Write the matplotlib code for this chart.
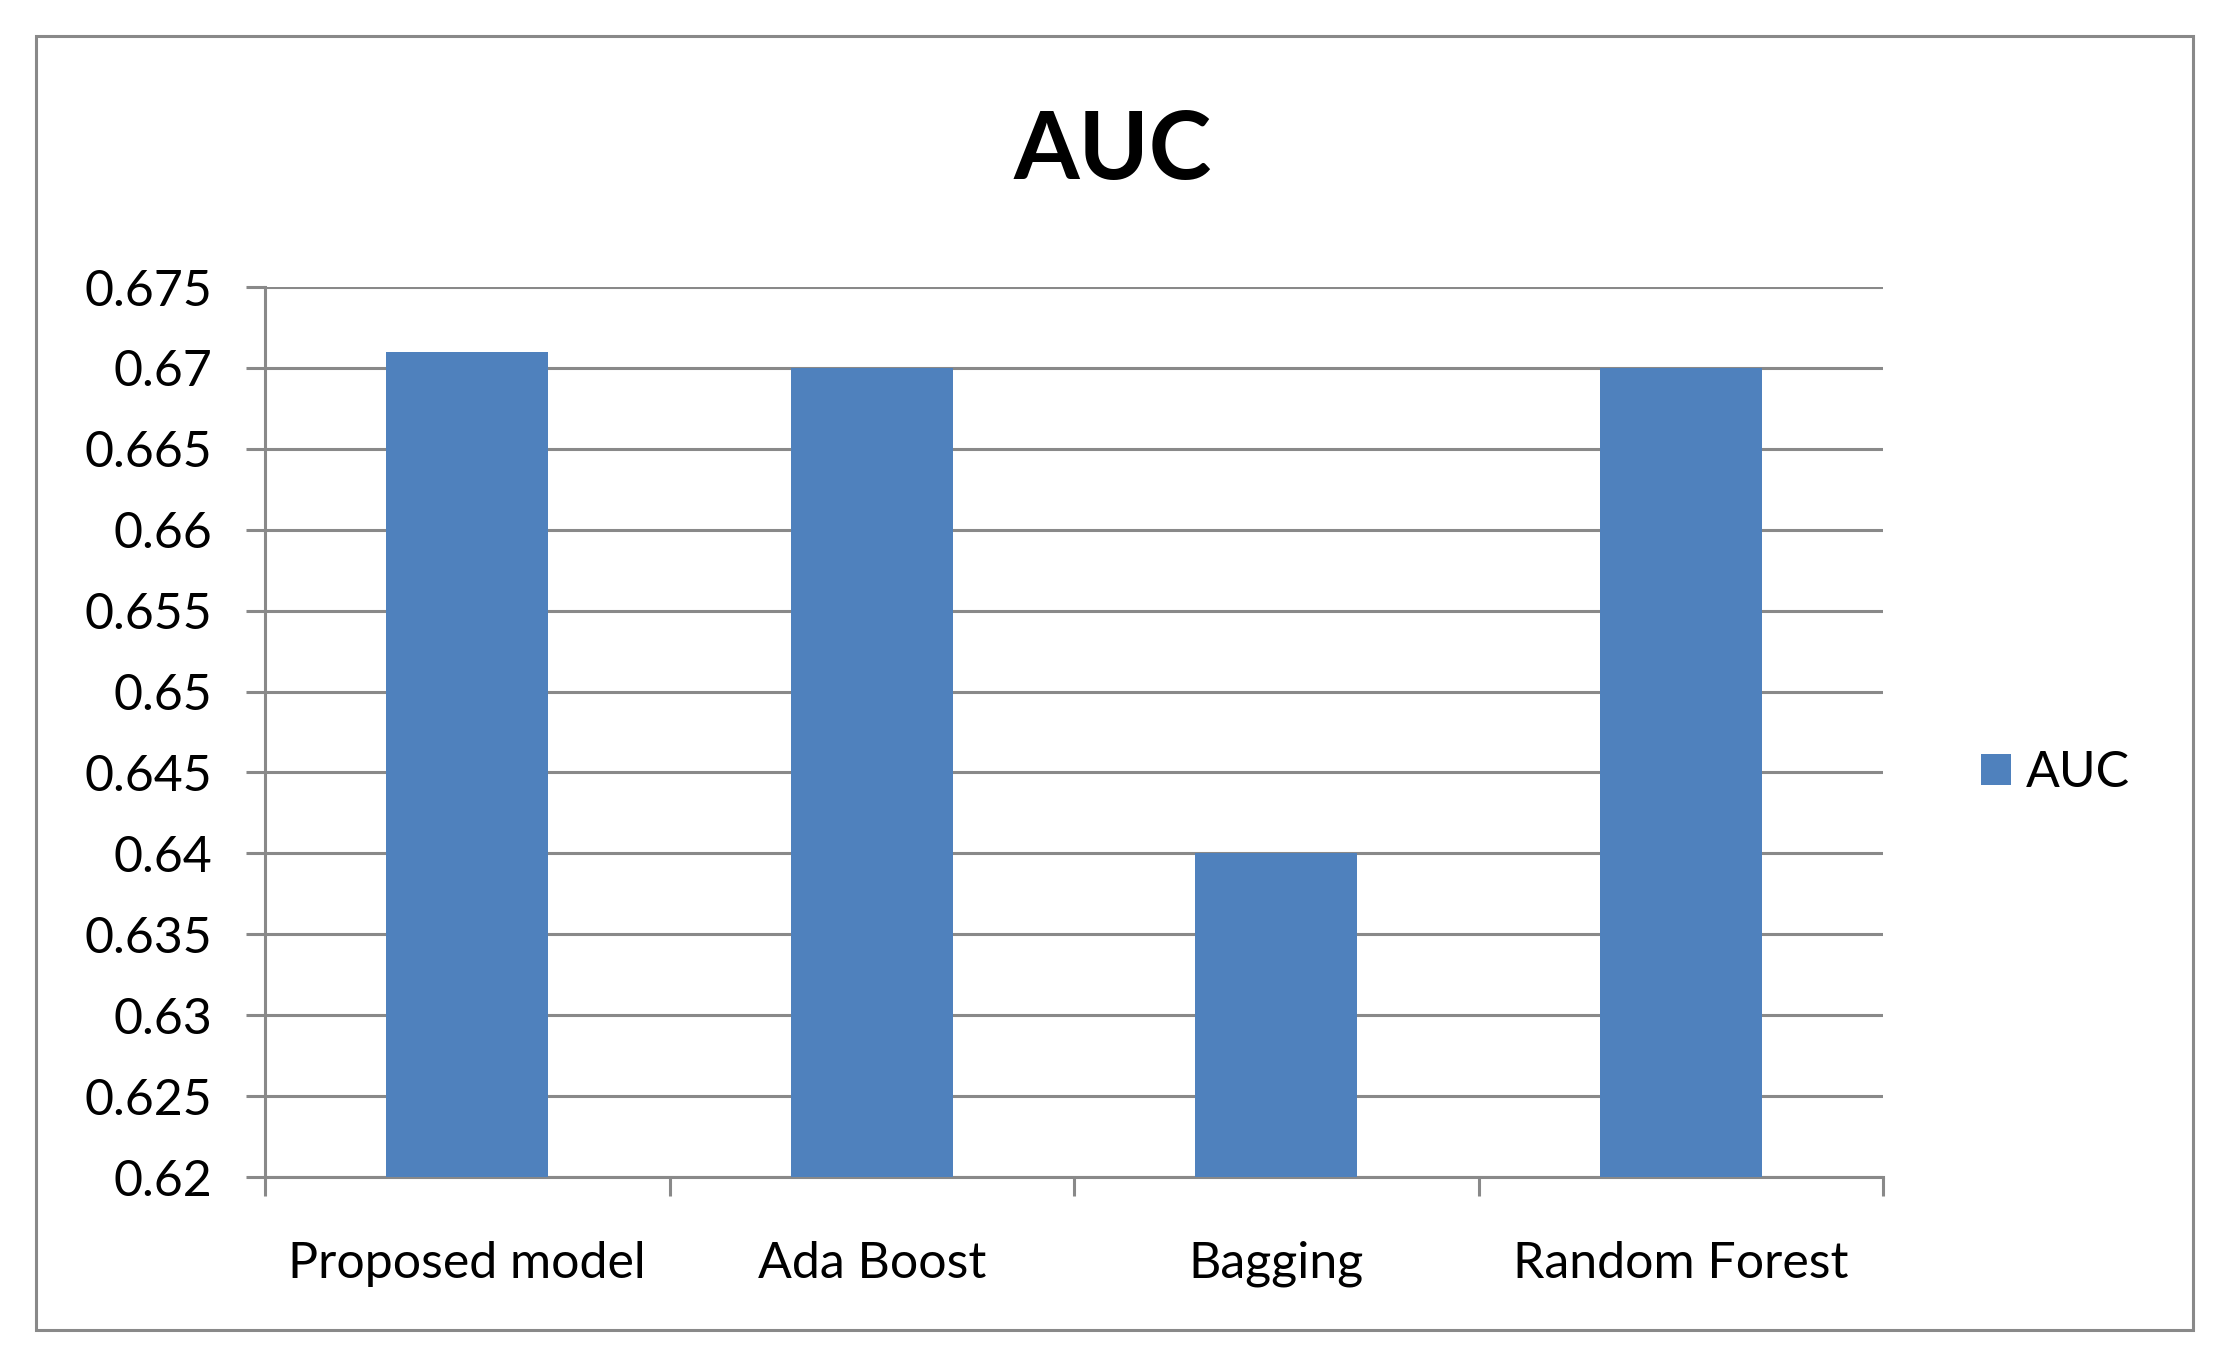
import matplotlib
matplotlib.use("Agg")
import matplotlib.pyplot as plt
from matplotlib.patches import Rectangle
from matplotlib.ticker import FixedLocator
import numpy as np

categories = ["Proposed model", "Ada Boost", "Bagging", "Random Forest"]
auc_values = [0.671, 0.670, 0.640, 0.670]
y_ticks = [0.62, 0.625, 0.63, 0.635, 0.64, 0.645, 0.65, 0.655, 0.66, 0.665, 0.67, 0.675]
y_tick_labels = ["0.62", "0.625", "0.63", "0.635", "0.64", "0.645", "0.65", "0.655",
                 "0.66", "0.665", "0.67", "0.675"]
series_name = "AUC"

plt.rcParams['font.family'] = ['Lato', 'DejaVu Sans']

W, H = 2237, 1370
fig = plt.figure(figsize=(W / 100, H / 100), dpi=100)
fig.patch.set_facecolor("white")

# outer border
fig.patches.append(Rectangle((36 / W, 40 / H), (2193 - 36) / W, (1334 - 40) / H,
                             transform=fig.transFigure, fill=False,
                             edgecolor="#898989", linewidth=2.2, zorder=0))

ax = fig.add_axes([265 / W, 193 / H, 1618 / W, 890 / H])
grid_c = "#898989"
x = np.arange(len(categories))
ax.bar(x, auc_values, width=0.4, color="#4F81BD", zorder=3, label=series_name)

ax.set_xlim(-0.5, len(categories) - 0.5)
ax.set_ylim(y_ticks[0], y_ticks[-1])
ax.set_yticks(y_ticks)
ax.set_yticklabels(y_tick_labels)
ax.yaxis.grid(True, color=grid_c, linewidth=2.2, zorder=0)
ax.set_axisbelow(True)

ax.set_xticks(x)
ax.set_xticklabels(categories)
ax.xaxis.set_minor_locator(FixedLocator(np.arange(-0.5, len(categories), 1.0)))
ax.tick_params(axis="x", which="major", length=0, pad=46, labelsize=36)
ax.tick_params(axis="x", which="minor", length=14, width=2.2, color=grid_c, direction="out")
ax.tick_params(axis="y", which="major", length=14, width=2.2, color=grid_c,
               direction="out", pad=24, labelsize=36)

for s in ["top", "right"]:
    ax.spines[s].set_visible(False)
for s in ["left", "bottom"]:
    ax.spines[s].set_color(grid_c)
    ax.spines[s].set_linewidth(2.2)

fig.text(1113 / W, 1 - 152 / H, "AUC", ha="center", va="center",
         fontsize=68, fontweight="bold")

leg = ax.legend(loc="center left", bbox_to_anchor=(1936 / W, 1 - 773 / H),
                bbox_transform=fig.transFigure, frameon=False, fontsize=36,
                handlelength=0.6, handleheight=0.6, handletextpad=0.3)

fig.savefig("out.png", dpi=100, facecolor="white")
